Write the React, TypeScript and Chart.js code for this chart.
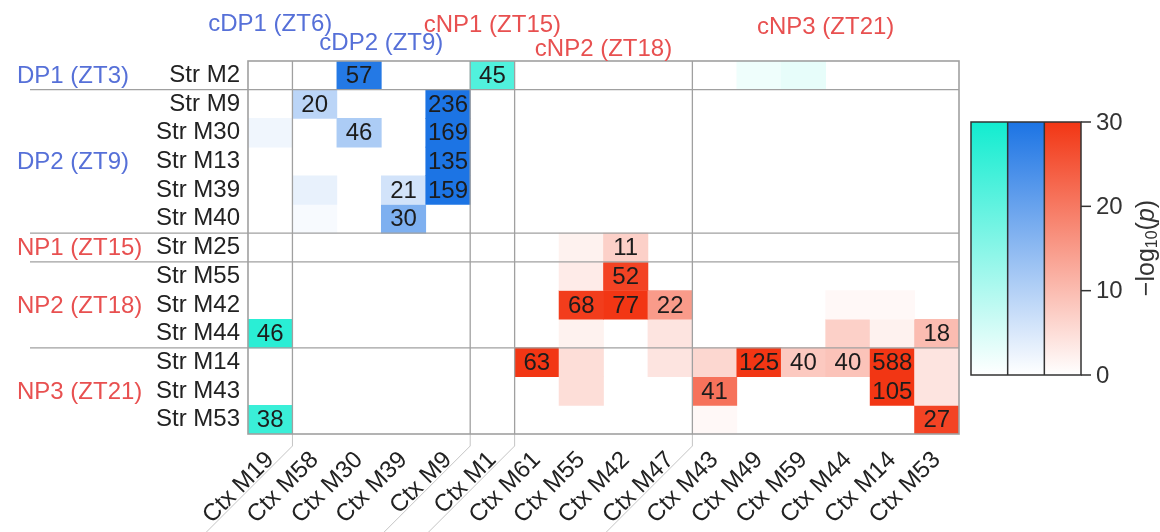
import { useEffect, useRef } from "react";
import { Chart, registerables } from "chart.js";

Chart.register(...registerables);

const FONT = '"Liberation Sans", Arial, Helvetica, sans-serif';

// ---- categories ----
const rowLabels = [
  "Str M2", "Str M9", "Str M30", "Str M13", "Str M39", "Str M40", "Str M25",
  "Str M55", "Str M42", "Str M44", "Str M14", "Str M43", "Str M53",
];
const colLabels = [
  "Ctx M19", "Ctx M58", "Ctx M30", "Ctx M39", "Ctx M9", "Ctx M1", "Ctx M61", "Ctx M55",
  "Ctx M42", "Ctx M47", "Ctx M43", "Ctx M49", "Ctx M59", "Ctx M44", "Ctx M14", "Ctx M53",
];

// ---- groups ----
const rowGroupNames = ["DP1 (ZT3)", "DP2 (ZT9)", "NP1 (ZT15)", "NP2 (ZT18)", "NP3 (ZT21)"];
const rowGroupOfRow = [0, 1, 1, 1, 1, 1, 2, 3, 3, 3, 4, 4, 4];
const colGroupNames = ["cDP1 (ZT6)", "cDP2 (ZT9)", "cNP1 (ZT15)", "cNP2 (ZT18)", "cNP3 (ZT21)"];
const colGroupOfCol = [0, 1, 1, 1, 1, 2, 3, 3, 3, 3, 4, 4, 4, 4, 4, 4];

// ---- values: -log10(p) per cell (row x column) ----
const negLog10P: number[][] = [
  [0, 0, 29, 0, 0, 22, 0, 0, 0, 0, 0, 2, 3, 0, 0, 0],
  [0, 9, 0, 0, 30, 0, 0, 0, 0, 0, 0, 0, 0, 0, 0, 0],
  [2, 0, 11, 0, 30, 0, 0, 0, 0, 0, 0, 0, 0, 0, 0, 0],
  [0, 0, 0, 0, 30, 0, 0, 0, 0, 0, 0, 0, 0, 0, 0, 0],
  [0, 3, 0, 6, 30, 0, 0, 0, 0, 0, 0, 0, 0, 0, 0, 0],
  [0, 1, 0, 17, 0, 0, 0, 0, 0, 0, 0, 0, 0, 0, 0, 0],
  [0, 0, 0, 0, 0, 0, 0, 2, 7, 0, 0, 0, 0, 0, 0, 0],
  [0, 0, 0, 0, 0, 0, 0, 3, 28, 0, 0, 0, 0, 0, 0, 0],
  [0, 0, 0, 0, 0, 0, 0, 29, 30, 15, 0, 0, 0, 1, 1, 0],
  [27, 0, 0, 0, 0, 0, 0, 2, 0, 4, 0, 0, 0, 7, 2, 10],
  [0, 0, 0, 0, 0, 0, 30, 5, 0, 4, 6, 30, 8, 9, 30, 4],
  [0, 0, 0, 0, 0, 0, 0, 5, 0, 0, 21, 0, 0, 0, 30, 4],
  [25, 0, 0, 0, 0, 0, 0, 0, 0, 0, 1, 0, 0, 0, 0, 28],
];

// ---- overlap counts shown in cells (null = not shown) ----
const N = null;
const overlapCounts: (number | null)[][] = [
  [N, N, 57, N, N, 45, N, N, N, N, N, N, N, N, N, N],
  [N, 20, N, N, 236, N, N, N, N, N, N, N, N, N, N, N],
  [N, N, 46, N, 169, N, N, N, N, N, N, N, N, N, N, N],
  [N, N, N, N, 135, N, N, N, N, N, N, N, N, N, N, N],
  [N, N, N, 21, 159, N, N, N, N, N, N, N, N, N, N, N],
  [N, N, N, 30, N, N, N, N, N, N, N, N, N, N, N, N],
  [N, N, N, N, N, N, N, N, 11, N, N, N, N, N, N, N],
  [N, N, N, N, N, N, N, N, 52, N, N, N, N, N, N, N],
  [N, N, N, N, N, N, N, 68, 77, 22, N, N, N, N, N, N],
  [46, N, N, N, N, N, N, N, N, N, N, N, N, N, N, 18],
  [N, N, N, N, N, N, 63, N, N, N, N, 125, 40, 40, 588, N],
  [N, N, N, N, N, N, N, N, N, N, 41, N, N, N, 105, N],
  [38, N, N, N, N, N, N, N, N, N, N, N, N, N, N, 27],
];

const colorbarTicks = [0, 10, 20, 30];
const colorMax = 30;

// colour schemes: [mismatch, DP-match, NP-match]
const schemeCyan = [18, 236, 208];
const schemeBlue = [28, 116, 228];
const schemeRed = [242, 54, 20];

function schemeFor(r: number, c: number) {
  const rDP = rowGroupNames[rowGroupOfRow[r]].startsWith("DP");
  const cDP = colGroupNames[colGroupOfCol[c]].startsWith("cDP");
  if (rDP && cDP) return schemeBlue;
  if (!rDP && !cDP) return schemeRed;
  return schemeCyan;
}

function mix(rgb: number[], t: number) {
  const k = Math.max(0, Math.min(1, t));
  const ch = rgb.map((v) => Math.round(255 + (v - 255) * k));
  return `rgb(${ch[0]},${ch[1]},${ch[2]})`;
}

function cellColor(v: number, r: number, c: number) {
  if (!v) return "rgba(0,0,0,0)";
  return mix(schemeFor(r, c), v / colorMax);
}

const blueText = "#5670d8";
const redText = "#e85050";

const overlay = {
  id: "overlay",
  afterDatasetsDraw(chart: any) {
    const ctx: CanvasRenderingContext2D = chart.ctx;
    const xs = chart.scales.x;
    const ys = chart.scales.y;
    const a = chart.chartArea;
    const cw = (a.right - a.left) / colLabels.length;
    const colLeft = (c: number) => xs.getPixelForValue(c) - cw / 2;
    const colRight = (c: number) => xs.getPixelForValue(c) + cw / 2;

    // cell numbers
    ctx.save();
    ctx.font = `24px ${FONT}`;
    ctx.textAlign = "center";
    ctx.textBaseline = "middle";
    ctx.fillStyle = "#1c1c1c";
    overlapCounts.forEach((row, r) =>
      row.forEach((n, c) => {
        if (n == null) return;
        ctx.fillText(String(n), xs.getPixelForValue(c), ys.getPixelForValue(r + 0.5) + 1, cw - 3);
      })
    );
    ctx.restore();

    // separators
    ctx.save();
    ctx.strokeStyle = "#a0a0a0";
    ctx.lineWidth = 1.3;
    for (let c = 0; c < colLabels.length - 1; c++) {
      if (colGroupOfCol[c] !== colGroupOfCol[c + 1]) {
        const x = colRight(c);
        ctx.beginPath();
        ctx.moveTo(x, a.top);
        ctx.lineTo(x, a.bottom);
        ctx.stroke();
        ctx.save();
        ctx.strokeStyle = "#c4c4c4";
        ctx.lineWidth = 1;
        ctx.beginPath();
        ctx.moveTo(x, a.bottom);
        ctx.lineTo(x, a.bottom + 12);
        ctx.lineTo(x - 86, a.bottom + 98);
        ctx.stroke();
        ctx.restore();
      }
    }
    for (let r = 0; r < rowLabels.length - 1; r++) {
      if (rowGroupOfRow[r] !== rowGroupOfRow[r + 1]) {
        const y = ys.getPixelForValue(r + 1);
        ctx.beginPath();
        ctx.moveTo(30, y);
        ctx.lineTo(a.right, y);
        ctx.stroke();
      }
    }
    ctx.lineWidth = 1.6;
    ctx.strokeRect(a.left, a.top, a.right - a.left, a.bottom - a.top);
    ctx.restore();

    // row group labels
    ctx.save();
    ctx.font = `24px ${FONT}`;
    ctx.textAlign = "left";
    ctx.textBaseline = "middle";
    rowGroupNames.forEach((name, g) => {
      const rows = rowGroupOfRow.map((v, i) => (v === g ? i : -1)).filter((i) => i >= 0);
      const y = (ys.getPixelForValue(rows[0]) + ys.getPixelForValue(rows[rows.length - 1] + 1)) / 2;
      ctx.fillStyle = name.startsWith("DP") ? blueText : redText;
      ctx.fillText(name, 17, y + 1);
    });
    // column group labels (staggered)
    const stagger = [24, 43, 25, 49, 27];
    ctx.textAlign = "center";
    colGroupNames.forEach((name, g) => {
      const cols = colGroupOfCol.map((v, i) => (v === g ? i : -1)).filter((i) => i >= 0);
      const x = (colLeft(cols[0]) + colRight(cols[cols.length - 1])) / 2;
      ctx.fillStyle = name.startsWith("cDP") ? blueText : redText;
      ctx.fillText(name, x, stagger[g]);
    });
    ctx.restore();

    // colour bar
    const bx = 971, bw = 110, bt = 122, bb = 375;
    const schemes = [schemeCyan, schemeBlue, schemeRed];
    const sw = bw / schemes.length;
    ctx.save();
    schemes.forEach((s, i) => {
      const g = ctx.createLinearGradient(0, bb, 0, bt);
      g.addColorStop(0, mix(s, 0));
      g.addColorStop(1, mix(s, 1));
      ctx.fillStyle = g;
      ctx.fillRect(bx + i * sw, bt, sw, bb - bt);
    });
    ctx.strokeStyle = "#333";
    ctx.lineWidth = 1.5;
    ctx.strokeRect(bx, bt, bw, bb - bt);
    for (let i = 1; i < schemes.length; i++) {
      ctx.beginPath();
      ctx.moveTo(bx + i * sw, bt);
      ctx.lineTo(bx + i * sw, bb);
      ctx.stroke();
    }
    ctx.font = `24px ${FONT}`;
    ctx.fillStyle = "#333";
    ctx.textAlign = "left";
    ctx.textBaseline = "middle";
    colorbarTicks.forEach((t) => {
      const y = bb - ((bb - bt) * t) / colorMax;
      ctx.beginPath();
      ctx.moveTo(bx + bw, y);
      ctx.lineTo(bx + bw + 10, y);
      ctx.stroke();
      ctx.fillText(String(t), bx + bw + 15, y + 1);
    });
    // axis title  −log10(p)
    ctx.translate(1147, 248);
    ctx.rotate(-Math.PI / 2);
    const big = `25px ${FONT}`;
    const small = `16px ${FONT}`;
    const ital = `italic 25px ${FONT}`;
    const parts: [string, string, number][] = [
      ["\u2212log", big, 0],
      ["10", small, 6],
      ["(", big, 0],
      ["p", ital, 0],
      [")", big, 0],
    ];
    let total = 0;
    parts.forEach(([t, f]) => { ctx.font = f; total += ctx.measureText(t).width; });
    let px = -total / 2;
    parts.forEach(([t, f, dy]) => {
      ctx.font = f;
      ctx.fillText(t, px, dy);
      px += ctx.measureText(t).width;
    });
    ctx.restore();
  },
};

export default function App() {
  const ref = useRef<HTMLCanvasElement>(null);
  useEffect(() => {
    document.body.style.margin = "0";
    const canvas = ref.current!;
    Chart.defaults.font.family = FONT;
    const datasets = rowLabels.map((label, r) => ({
      label,
      data: colLabels.map(() => [r, r + 1] as [number, number]),
      backgroundColor: negLog10P[r].map((v, c) => cellColor(v, r, c)),
      borderWidth: 0,
      borderSkipped: false as const,
      barPercentage: 1,
      categoryPercentage: 1,
      grouped: false,
    }));
    const chart = new Chart(canvas, {
      type: "bar",
      data: { labels: colLabels, datasets },
      options: {
        animation: false,
        responsive: false,
        events: [],
        layout: { padding: { left: 0, top: 61, right: 201, bottom: 0 } },
        plugins: { legend: { display: false }, tooltip: { enabled: false } },
        scales: {
          x: {
            type: "category",
            grid: { display: false, drawTicks: false },
            border: { display: false },
            ticks: {
              autoSkip: false,
              minRotation: 45,
              maxRotation: 45,
              padding: 12,
              color: "#222",
              font: { size: 24, family: FONT },
            },
            afterFit: (s: any) => { s.height = 98; },
          },
          y: {
            type: "linear",
            min: 0,
            max: rowLabels.length,
            reverse: true,
            grid: { display: false, drawTicks: false },
            border: { display: false },
            afterBuildTicks: (axis: any) => {
              axis.ticks = rowLabels.map((_, i) => ({ value: i + 0.5 }));
            },
            ticks: {
              autoSkip: false,
              padding: 8,
              color: "#222",
              font: { size: 24, family: FONT },
              callback: (v: any) => rowLabels[Math.floor(Number(v))],
            },
            afterFit: (s: any) => { s.width = 248; },
          },
        },
      },
      plugins: [overlay],
    });
    return () => chart.destroy();
  }, []);
  return <canvas ref={ref} width={1160} height={532} style={{ display: "block" }} />;
}
